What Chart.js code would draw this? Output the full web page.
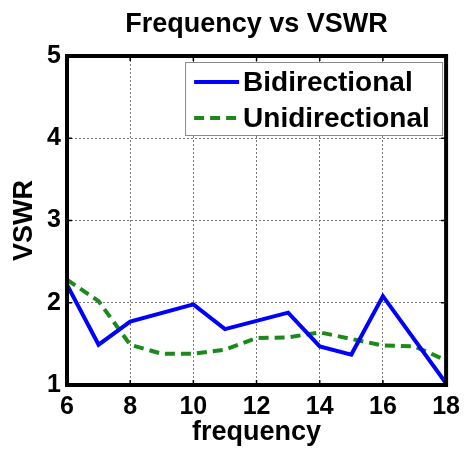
<!DOCTYPE html>
<html>
<head>
<meta charset="utf-8">
<script src="https://cdn.jsdelivr.net/npm/chart.js@4/dist/chart.umd.min.js"></script>
<style>
html,body{margin:0;padding:0;background:#fff;}
#wrap{width:467px;height:449px;}
</style>
</head>
<body>
<div id="wrap"><canvas id="c" width="467" height="449"></canvas></div>
<script>
const biFreq = [6, 7, 8, 10, 11, 13, 14, 15, 16, 18];
const biVswr = [2.22, 1.49, 1.77, 1.98, 1.68, 1.88, 1.47, 1.37, 2.08, 1.02];
const uniFreq = [6, 7, 8, 9, 10, 11, 12, 13, 14, 15, 16, 17, 18];
const uniVswr = [2.28, 2.02, 1.49, 1.38, 1.38, 1.43, 1.57, 1.58, 1.64, 1.56, 1.48, 1.47, 1.30];
const xTicks = [6, 8, 10, 12, 14, 16, 18];
const yTicks = [1, 2, 3, 4, 5];
const seriesNames = ['Bidirectional', 'Unidirectional'];
const titleText = 'Frequency vs VSWR';
const xTitle = 'frequency';
const yTitle = 'VSWR';

const FONT = "'Liberation Sans', Arial, sans-serif";

const framePlugin = {
  id: 'frame',
  afterDatasetsDraw(chart) {
    const ctx = chart.ctx, a = chart.chartArea;
    const xs = chart.scales.x, ys = chart.scales.y;
    ctx.save();
    // title centred over the plot area
    ctx.fillStyle = '#000';
    ctx.font = 'bold 27px ' + FONT;
    ctx.textAlign = 'center';
    ctx.textBaseline = 'middle';
    ctx.fillText(titleText, (a.left + a.right) / 2, 25);
    // inward tick marks
    ctx.strokeStyle = '#000';
    ctx.lineWidth = 1.5;
    const tl = 5;
    ctx.beginPath();
    xTicks.forEach(v => {
      const px = xs.getPixelForValue(v);
      ctx.moveTo(px, a.bottom); ctx.lineTo(px, a.bottom - tl);
      ctx.moveTo(px, a.top); ctx.lineTo(px, a.top + tl);
    });
    yTicks.forEach(v => {
      const py = ys.getPixelForValue(v);
      ctx.moveTo(a.left, py); ctx.lineTo(a.left + tl, py);
      ctx.moveTo(a.right, py); ctx.lineTo(a.right - tl, py);
    });
    ctx.stroke();
    ctx.lineWidth = 4;
    ctx.strokeRect(a.left, a.top, a.right - a.left, a.bottom - a.top);
    // legend box
    const w = 257, h = 73;
    const lx = a.right - 4 - w, ly = a.top + 6;
    ctx.fillStyle = '#fff';
    ctx.fillRect(lx, ly, w, h);
    ctx.lineWidth = 1;
    ctx.strokeStyle = '#8a8a8a';
    ctx.strokeRect(lx + 0.5, ly + 0.5, w, h);
    ctx.font = 'bold 28px ' + FONT;
    ctx.textBaseline = 'middle';
    ctx.textAlign = 'left';
    chart.data.datasets.forEach((ds, i) => {
      const cy = ly + 20 + i * 36;
      ctx.beginPath();
      ctx.strokeStyle = ds.borderColor;
      ctx.lineWidth = 4;
      ctx.setLineDash(ds.borderDash || []);
      ctx.moveTo(lx + 9, cy); ctx.lineTo(lx + 54, cy);
      ctx.stroke();
      ctx.setLineDash([]);
      ctx.fillStyle = '#000';
      ctx.fillText(ds.label, lx + 58, cy + 1);
    });
    ctx.restore();
  }
};

new Chart(document.getElementById('c'), {
  type: 'line',
  data: {
    datasets: [
      {
        label: seriesNames[0],
        data: biFreq.map((f, i) => ({x: f, y: biVswr[i]})),
        borderColor: '#0000ff',
        borderWidth: 4,
        pointRadius: 0,
        fill: false,
        tension: 0
      },
      {
        label: seriesNames[1],
        data: uniFreq.map((f, i) => ({x: f, y: uniVswr[i]})),
        borderColor: '#1a8a1a',
        borderWidth: 4,
        borderDash: [10, 6],
        pointRadius: 0,
        fill: false,
        tension: 0
      }
    ]
  },
  options: {
    responsive: false,
    animation: false,
    devicePixelRatio: 1,
    layout: {padding: {left: 0, right: 19, top: 56, bottom: 0}},
    plugins: {
      legend: {display: false},
      tooltip: {enabled: false},
      title: {display: false}
    },
    scales: {
      x: {
        type: 'linear',
        min: 6, max: 18,
        afterBuildTicks: s => { s.ticks = xTicks.map(v => ({value: v})); },
        afterFit: s => { s.height = 64; },
        grid: {color: '#777', lineWidth: 1, drawTicks: false},
        border: {display: false, dash: [2, 2]},
        ticks: {color: '#000', padding: 7, font: {family: FONT, size: 25, weight: 'bold'}, maxRotation: 0},
        title: {display: true, text: xTitle, color: '#000', font: {family: FONT, size: 27, weight: 'bold'}, padding: {top: 0, bottom: 0}}
      },
      y: {
        type: 'linear',
        min: 1, max: 5,
        afterBuildTicks: s => { s.ticks = yTicks.map(v => ({value: v})); },
        afterFit: s => { s.width = 67; },
        grid: {color: '#777', lineWidth: 1, drawTicks: false},
        border: {display: false, dash: [2, 2]},
        ticks: {color: '#000', padding: 6, font: {family: FONT, size: 25, weight: 'bold'}},
        title: {display: true, text: yTitle, color: '#000', font: {family: FONT, size: 27, weight: 'bold'}, padding: {top: 8, bottom: 0}}
      }
    }
  },
  plugins: [framePlugin]
});
</script>
</body>
</html>
